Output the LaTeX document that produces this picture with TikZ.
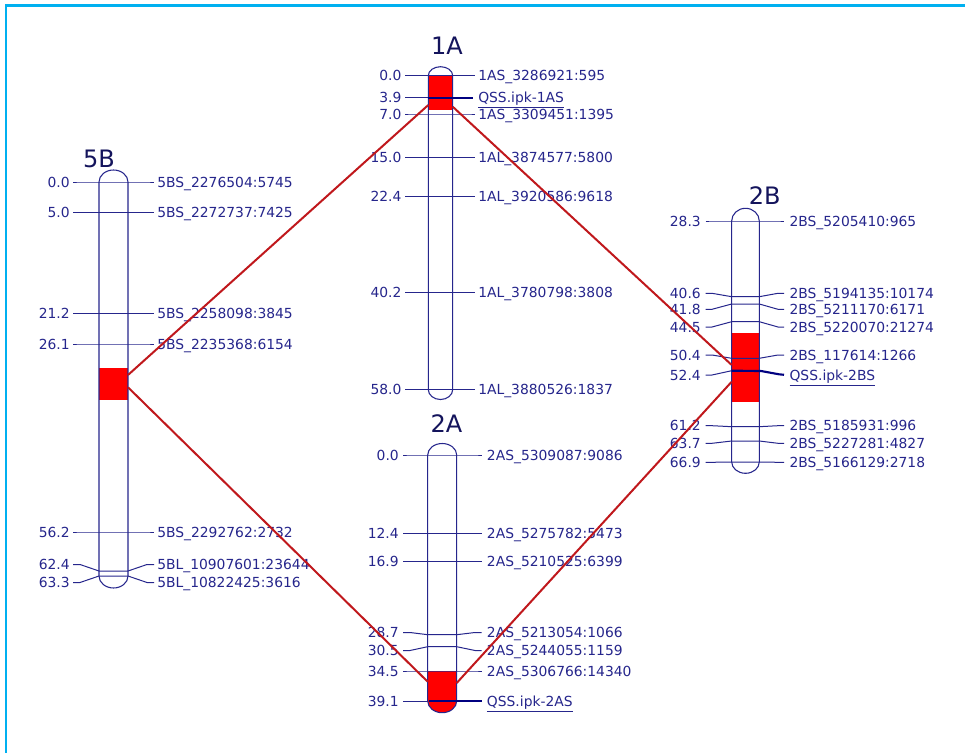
\documentclass[tikz,border=0pt]{standalone}
\usepackage{fontspec}
\setmainfont{DejaVu Sans}
\usepackage{xcolor}
\definecolor{Ink}{HTML}{26268C}
\definecolor{Title}{HTML}{14145C}
\definecolor{Qtl}{HTML}{000080}
\definecolor{Link}{HTML}{C0181C}
\definecolor{Frame}{HTML}{00B0F0}
\definecolor{Region}{HTML}{FF0000}

\tikzset{
  chrom/.style={draw=Ink,line width=0.8pt},
  tickline/.style={draw=Ink,line width=0.75pt},
  qtlline/.style={draw=Qtl,line width=1.6pt},
  link/.style={draw=Link,line width=1.5pt},
  cmlab/.style={anchor=east,font=\fontsize{10.4}{12}\selectfont,text=Ink,
    inner sep=0pt,text height=7.6pt,text depth=0pt},
  mklab/.style={cmlab,anchor=west},
  chromname/.style={font=\fontsize{18}{20}\selectfont,text=Title,
    inner sep=0pt,text height=13pt,text depth=0pt}
}

\begin{document}
\begin{tikzpicture}[x=0.75pt,y=-0.75pt]
\path[use as bounding box,fill=white] (0,0) rectangle (965,753);
\draw[Frame,line width=1.9pt] (6,753) -- (6,5.3) -- (965,5.3);

% QTL regions
\fill[Region] (99,367.7) rectangle (128,400);
\fill[Region] (428.3,75.7) rectangle (452.7,110);
\fill[Region] (731.7,333) rectangle (759.3,402);
\fill[Region] (427.7,671) -- (427.7,701)
  arc[start angle=180,end angle=0,x radius=14.5,y radius=11.7] -- (456.7,671) -- cycle;

% chromosome bars
\draw[chrom] (99,182) -- (99,576) arc[start angle=180,end angle=0,x radius=14.5,y radius=12]
  -- (128,182) arc[start angle=0,end angle=-180,x radius=14.5,y radius=12] -- cycle;
\draw[chrom] (428.3,75.7) -- (428.3,389.5) arc[start angle=180,end angle=0,x radius=12.2,y radius=10]
  -- (452.7,75.7) arc[start angle=0,end angle=-180,x radius=12.2,y radius=9] -- cycle;
\draw[chrom] (427.7,455) -- (427.7,701) arc[start angle=180,end angle=0,x radius=14.5,y radius=11.7]
  -- (456.7,455) arc[start angle=0,end angle=-180,x radius=14.5,y radius=11.5] -- cycle;
\draw[chrom] (731.7,221) -- (731.7,462) arc[start angle=180,end angle=0,x radius=13.8,y radius=11.3]
  -- (759.3,221) arc[start angle=0,end angle=-180,x radius=13.8,y radius=12.7] -- cycle;

% titles
\node[chromname] (t5B) at (99,158.5) {5B};
\node[chromname] (t1A) at (447,45.5) {1A};
\node[chromname] (t2A) at (446.5,424) {2A};
\node[chromname] (t2B) at (764.7,196) {2B};

% markers: tick y / label y / cM / name
\foreach \t/\l/\cm/\mk [count=\i] in {182/182/0.0/5BS\_2276504:5745,
    212.5/212.5/5.0/5BS\_2272737:7425, 313.5/313.5/21.2/5BS\_2258098:3845,
    344/344/26.1/5BS\_2235368:6154, 532/532/56.2/5BS\_2292762:2732,
    571/564.5/62.4/5BL\_10907601:23644, 576/582.5/63.3/5BL\_10822425:3616}{
  \draw[tickline] (73,\l) -- (80,\l) -- (99,\t) -- (128,\t) -- (147,\l) -- (154,\l);
  \node[cmlab] (c5B-\i) at (70,\l) {\cm};
  \node[mklab] (m5B-\i) at (157,\l) {\mk};
}
\foreach \t/\l/\cm/\mk [count=\i] in {75.7/75.7/0.0/1AS\_3286921:595,
    114/114/7.0/1AS\_3309451:1395, 157.7/157.7/15.0/1AL\_3874577:5800,
    196.7/196.7/22.4/1AL\_3920586:9618, 292.8/292.8/40.2/1AL\_3780798:3808,
    389.5/389.5/58.0/1AL\_3880526:1837}{
  \draw[tickline] (405,\l) -- (411,\l) -- (428.3,\t) -- (452.7,\t) -- (469,\l) -- (475,\l);
  \node[cmlab] (c1A-\i) at (401.7,\l) {\cm};
  \node[mklab] (m1A-\i) at (478,\l) {\mk};
}
\foreach \t/\l/\cm/\mk [count=\i] in {455/455/0.0/2AS\_5309087:9086,
    533.3/533.3/12.4/2AS\_5275782:5473, 561.7/561.7/16.9/2AS\_5210525:6399,
    634.7/632.5/28.7/2AS\_5213054:1066, 646.7/650.5/30.5/2AS\_5244055:1159,
    671/671/34.5/2AS\_5306766:14340}{
  \draw[tickline] (403,\l) -- (410,\l) -- (427.7,\t) -- (456.7,\t) -- (475,\l) -- (481.7,\l);
  \node[cmlab] (c2A-\i) at (399,\l) {\cm};
  \node[mklab] (m2A-\i) at (486.7,\l) {\mk};
}
\foreach \t/\l/\cm/\mk [count=\i] in {221/221/28.3/2BS\_5205410:965,
    296.7/293.3/40.6/2BS\_5194135:10174, 304/309.3/41.8/2BS\_5211170:6171,
    321.7/327/44.5/2BS\_5220070:21274, 358.3/355/50.4/2BS\_117614:1266,
    426.7/425.7/61.2/2BS\_5185931:996, 441/443.3/63.7/2BS\_5227281:4827,
    462/462.3/66.9/2BS\_5166129:2718}{
  \draw[tickline] (705.7,\l) -- (712,\l) -- (731.7,\t) -- (759.3,\t) -- (778,\l) -- (784,\l);
  \node[cmlab] (c2B-\i) at (701,\l) {\cm};
  \node[mklab] (m2B-\i) at (789.3,\l) {\mk};
}

% QTL peaks
\draw[tickline] (405,97.7) -- (428.3,97.7);
\draw[qtlline] (428.3,97.7) -- (473,97.7);
\node[cmlab] (q1A-cm) at (401.7,97.7) {3.9};
\node[mklab] (q1A) at (478,97.7) {\underline{QSS.ipk-1AS}};

\draw[tickline] (705.7,375) -- (712,375) -- (731.7,370.7);
\draw[qtlline] (731.7,370.7) -- (761,371) -- (779,374.3) -- (784,374.8);
\node[cmlab] (q2B-cm) at (701,375) {52.4};
\node[mklab] (q2B) at (789.3,375) {\underline{QSS.ipk-2BS}};

\draw[tickline] (403,701) -- (427.7,701);
\draw[qtlline] (429,701) -- (481.7,701);
\node[cmlab] (q2A-cm) at (399,701) {39.1};
\node[mklab] (q2A) at (486.7,701) {\underline{QSS.ipk-2AS}};

% links between QTL regions
\coordinate (a5B) at (128,375);
\coordinate (b5B) at (128,387.3);
\coordinate (a1A) at (428.3,105);
\coordinate (b1A) at (452.7,106.7);
\coordinate (a2A) at (427.7,681.7);
\coordinate (b2A) at (456.7,683);
\coordinate (a2B) at (731.7,365);
\coordinate (b2B) at (731.7,381.7);
\draw[link] (a5B) -- (a1A);
\draw[link] (b5B) -- (a2A);
\draw[link] (b1A) -- (a2B);
\draw[link] (b2A) -- (b2B);
\end{tikzpicture}
\end{document}
